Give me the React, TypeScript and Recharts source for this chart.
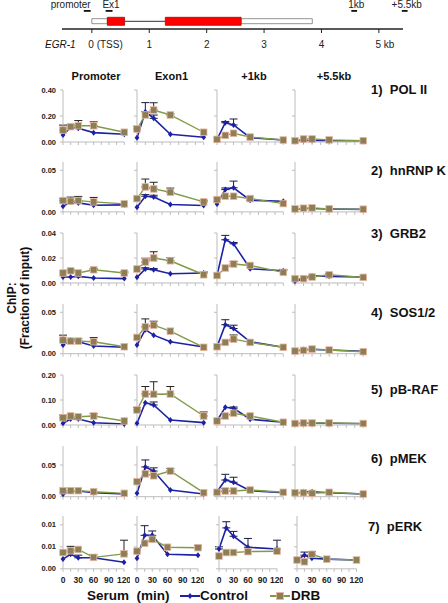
import React from "react";
import {
  LineChart,
  Line,
  XAxis,
  YAxis,
  ErrorBar,
  ReferenceArea,
  ReferenceLine,
} from "recharts";

const FONT = '"Liberation Sans", Arial, sans-serif';
const AXIS_GRAY = "#BDBDBD";
const CTL = "#1C22A6";
const DRB_LINE = "#7E9B45";
const DRB_FILL = "#8C7E55";
const DRB_EDGE = "#E6B7A3";

// ---- gene map, kb from TSS
const kbTicks = [0, 1, 2, 3, 4, 5];
const utrs = [
  [0, 0.27],
  [2.6, 3.84],
];
const exons = [
  [0.27, 0.57],
  [1.28, 2.6],
];
const intron = [0.57, 1.28];
const amplicons = ["promoter", "Ex1", "1kb", "+5.5kb"];
const ampliconKb = [
  [-0.14, -0.02],
  [0.24, 0.36],
  [4.52, 4.62],
  [5.4, 5.5],
];

// ---- ChIP panels
const times = [0, 15, 30, 60, 120];
const xTicks = [0, 15, 30, 45, 60, 75, 90, 105, 120];
const regions = ["Promoter", "Exon1", "+1kb", "+5.5kb"];
const targets = ["1)  POL II", "2)  hnRNP K", "3)  GRB2", "4)  SOS1/2", "5)  pB-RAF", "6)  pMEK", "7)  pERK"];
const yMaxes = [0.4, 0.06, 0.04, 0.06, 0.2, 0.08, 0.012];
const yTicks = [
  [0, 0.2, 0.4],
  [0, 0.05],
  [0, 0.02, 0.04],
  [0, 0.05],
  [0, 0.1, 0.2],
  [0, 0.05],
  [0, 0.005, 0.01],
];

// each: [promoter, exon1, +1kb, +5.5kb] x times
const polCtl = [
  [0.054, 0.113, 0.105, 0.072, 0.06],
  [0.033, 0.233, 0.182, 0.059, 0.036],
  [0.02, 0.148, 0.131, 0.033, 0.015],
  [0.01, 0.012, 0.012, 0.01, 0.008],
];
const polDrb = [
  [0.092, 0.118, 0.125, 0.125, 0.075],
  [0.1, 0.208, 0.246, 0.208, 0.075],
  [0.02, 0.051, 0.067, 0.038, 0.015],
  [0.01, 0.023, 0.023, 0.016, 0.01],
];
const polCtlErr = [
  [0, 0, 0, 0, 0],
  [0, 0.07, 0.025, 0, 0],
  [0, 0.01, 0.046, 0, 0],
  [0, 0, 0, 0, 0],
];
const polDrbErr = [
  [0.038, 0.015, 0.04, 0.03, 0],
  [0.02, 0, 0.056, 0.01, 0],
  [0, 0, 0, 0, 0],
  [0, 0, 0, 0, 0],
];

const hnCtl = [
  [0.0067, 0.012, 0.0108, 0.008, 0.0084],
  [0.0055, 0.0188, 0.018, 0.0088, 0.0076],
  [0.0096, 0.0268, 0.029, 0.014, 0.0128],
  [0.003, 0.004, 0.004, 0.0035, 0.003],
];
const hnDrb = [
  [0.0136, 0.0128, 0.0136, 0.012, 0.0096],
  [0.016, 0.03, 0.0276, 0.0236, 0.012],
  [0.0148, 0.0188, 0.0188, 0.016, 0.01],
  [0.0036, 0.0044, 0.0048, 0.0036, 0.0032],
];
const hnCtlErr = [
  [0, 0, 0, 0, 0],
  [0, 0.002, 0.002, 0, 0],
  [0, 0.002, 0.008, 0.002, 0],
  [0, 0, 0, 0, 0],
];
const hnDrbErr = [
  [0.0024, 0.005, 0.005, 0.0054, 0],
  [0, 0.0095, 0.008, 0.005, 0.002],
  [0, 0, 0, 0, 0],
  [0, 0, 0, 0, 0],
];

const grbCtl = [
  [0.0048, 0.0048, 0.0053, 0.004, 0.0035],
  [0.0045, 0.0112, 0.0106, 0.0074, 0.008],
  [0.006, 0.0346, 0.0314, 0.0114, 0.0098],
  [0.0013, 0.0035, 0.0058, 0.0053, 0.0048],
];
const grbDrb = [
  [0.008, 0.0098, 0.008, 0.0106, 0.008],
  [0.0112, 0.0168, 0.02, 0.0178, 0.0066],
  [0.006, 0.012, 0.0152, 0.014, 0.0085],
  [0.0035, 0.0035, 0.0048, 0.0066, 0.0045],
];
const grbCtlErr = [
  [0, 0, 0, 0, 0],
  [0, 0.001, 0.001, 0, 0.001],
  [0, 0.0035, 0.001, 0, 0.001],
  [0, 0, 0, 0, 0],
];
const grbDrbErr = [
  [0, 0.001, 0, 0.001, 0.001],
  [0, 0.003, 0.005, 0.0026, 0],
  [0, 0, 0.002, 0, 0],
  [0, 0, 0.001, 0.001, 0],
];

const sosCtl = [
  [0.0104, 0.0164, 0.0144, 0.0092, 0.0077],
  [0.0104, 0.029, 0.0224, 0.0144, 0.008],
  [0.0084, 0.035, 0.0304, 0.0144, 0.0077],
  [0.003, 0.005, 0.005, 0.0045, 0.003],
];
const sosDrb = [
  [0.0164, 0.0152, 0.0152, 0.0144, 0.0084],
  [0.0196, 0.0324, 0.0344, 0.0272, 0.0077],
  [0.0084, 0.0136, 0.0176, 0.0136, 0.0077],
  [0.0032, 0.004, 0.0056, 0.0044, 0.0024],
];
const sosCtlErr = [
  [0, 0, 0, 0, 0],
  [0, 0, 0, 0, 0],
  [0, 0.006, 0.004, 0, 0],
  [0, 0, 0, 0, 0],
];
const sosDrbErr = [
  [0.006, 0.002, 0.003, 0.005, 0],
  [0, 0.0096, 0.0048, 0, 0],
  [0, 0, 0.005, 0, 0],
  [0, 0, 0, 0, 0],
];

const rafCtl = [
  [0.0068, 0.024, 0.024, 0.0093, 0.004],
  [0.0068, 0.089, 0.08, 0.02, 0.0093],
  [0.017, 0.071, 0.067, 0.023, 0.011],
  [0.005, 0.007, 0.007, 0.007, 0.005],
];
const rafDrb = [
  [0.029, 0.036, 0.033, 0.036, 0.016],
  [0.06, 0.124, 0.123, 0.124, 0.036],
  [0.016, 0.036, 0.047, 0.036, 0.011],
  [0.006, 0.008, 0.008, 0.008, 0.006],
];
const rafCtlErr = [
  [0, 0.005, 0, 0, 0],
  [0, 0, 0.012, 0, 0],
  [0, 0, 0.005, 0, 0],
  [0, 0, 0, 0, 0],
];
const rafDrbErr = [
  [0.011, 0, 0, 0.01, 0],
  [0.01, 0.03, 0.05, 0.03, 0.016],
  [0, 0, 0, 0, 0],
  [0, 0, 0, 0, 0],
];

const mekCtl = [
  [0.0037, 0.0095, 0.009, 0.0063, 0.0042],
  [0.0053, 0.047, 0.0405, 0.0105, 0.0042],
  [0.0079, 0.0263, 0.0227, 0.0095, 0.0063],
  [0.005, 0.0079, 0.0079, 0.0063, 0.0042],
];
const mekDrb = [
  [0.0095, 0.0095, 0.0095, 0.0079, 0.0053],
  [0.0237, 0.036, 0.033, 0.0405, 0.0063],
  [0.0069, 0.009, 0.009, 0.0105, 0.0069],
  [0.0063, 0.0063, 0.0053, 0.0069, 0.0042],
];
const mekCtlErr = [
  [0, 0, 0, 0, 0],
  [0, 0.011, 0.005, 0, 0],
  [0, 0.009, 0.008, 0, 0],
  [0, 0, 0, 0, 0],
];
const mekDrbErr = [
  [0, 0, 0, 0, 0],
  [0, 0, 0, 0.004, 0],
  [0, 0.004, 0, 0, 0],
  [0, 0, 0, 0, 0],
];

const erkCtl = [
  [0.0022, 0.0033, 0.0025, 0.0025, 0.0015],
  [0.0024, 0.0076, 0.0076, 0.0033, 0.0031],
  [0.0045, 0.0093, 0.0074, 0.0049, 0.0045],
  [0.002, 0.0031, 0.0024, 0.0022, 0.002],
];
const erkDrb = [
  [0.0037, 0.0041, 0.0044, 0.0026, 0.0034],
  [0.004, 0.0058, 0.0067, 0.0049, 0.0048],
  [0.0029, 0.0037, 0.0037, 0.0039, 0.004],
  [0.002, 0.0016, 0.0033, 0.0022, 0.002],
];
const erkCtlErr = [
  [0, 0, 0.0006, 0, 0],
  [0, 0.0022, 0.001, 0, 0],
  [0.0005, 0.0014, 0.0011, 0.002, 0.002],
  [0, 0.0007, 0, 0, 0],
];
const erkDrbErr = [
  [0, 0.001, 0, 0.0006, 0.0031],
  [0, 0, 0, 0, 0.0005],
  [0, 0, 0, 0, 0],
  [0, 0, 0.0006, 0, 0],
];

const ctlSeries = [polCtl, hnCtl, grbCtl, sosCtl, rafCtl, mekCtl, erkCtl];
const drbSeries = [polDrb, hnDrb, grbDrb, sosDrb, rafDrb, mekDrb, erkDrb];
const ctlErrSeries = [polCtlErr, hnCtlErr, grbCtlErr, sosCtlErr, rafCtlErr, mekCtlErr, erkCtlErr];
const drbErrSeries = [polDrbErr, hnDrbErr, grbDrbErr, sosDrbErr, rafDrbErr, mekDrbErr, erkDrbErr];

// ---- layout (px)
const rowTop = [90, 162.4, 233.3, 304, 375, 446, 516.2];
const rowZero = [142, 212.3, 283.3, 353.7, 425, 496.7, 569];
const titleY = [90, 170.7, 234.3, 313.3, 390, 459.3, 526.7];
const colX = [63, 137.3, 217, 295];
const colW = [61.3, 66.7, 66.3, 68.3];
const lastColX = [63.3, 137.3, 218.5, 297];
const lastColW = [61, 61, 58, 59.5];
const headerX = [96, 171.5, 254, 334];

const NoTick = () => <g />;

const MinuteTick = (p: any) => {
  const v = p.payload?.value;
  if (v % 30 !== 0) return <g />;
  return (
    <text x={p.x} y={p.y + 9} textAnchor="middle" fontSize={8.5} fontWeight={700} fill="#222" fontFamily={FONT}>
      {v}
    </text>
  );
};

const Diamond = (p: any) => {
  const { cx, cy, index } = p;
  if (cx == null || cy == null) return <g key={index} />;
  return (
    <polygon
      key={index}
      points={`${cx},${cy - 3} ${cx + 2.4},${cy} ${cx},${cy + 3} ${cx - 2.4},${cy}`}
      fill={CTL}
    />
  );
};

const Square = (p: any) => {
  const { cx, cy, index } = p;
  if (cx == null || cy == null) return <g key={index} />;
  return (
    <rect key={index} x={cx - 3.3} y={cy - 3.3} width={6.6} height={6.6} fill={DRB_FILL} stroke={DRB_EDGE} strokeWidth={0.8} />
  );
};

function Panel({ r, c }: { r: number; c: number }) {
  const last = r === targets.length - 1;
  const px = (last ? lastColX : colX)[c];
  const pw = (last ? lastColW : colW)[c];
  const top = rowTop[r];
  const zero = rowZero[r];
  const padL = 30;
  const padR = 6;
  const padT = 8;
  const axisH = last ? 20 : 6;
  const err = (v: number) => (v > 0 ? [0, v] : undefined);
  const data = times.map((t, i) => ({
    t,
    ctl: ctlSeries[r][c][i],
    drb: drbSeries[r][c][i],
    ctlErr: err(ctlErrSeries[r][c][i]),
    drbErr: err(drbErrSeries[r][c][i]),
  }));

  return (
    <div style={{ position: "absolute", left: px - padL, top: top - padT }}>
      <LineChart
        width={pw + padL + padR}
        height={zero - top + padT + axisH}
        data={data}
        margin={{ top: padT, right: padR, bottom: 0, left: 0 }}
      >
        <XAxis
          dataKey="t"
          type="number"
          domain={[0, 120]}
          ticks={xTicks}
          interval={0}
          height={axisH}
          stroke={AXIS_GRAY}
          tickSize={3}
          tick={last ? MinuteTick : NoTick}
        />
        <YAxis
          width={padL}
          type="number"
          domain={[0, yMaxes[r]]}
          ticks={yTicks[r]}
          interval={0}
          stroke={AXIS_GRAY}
          tickSize={3}
          tickMargin={4}
          tick={c === 0 ? { fontSize: 7.5, fontWeight: 700, fill: "#222", fontFamily: FONT } : NoTick}
          tickFormatter={(v: number) => v.toFixed(2)}
        />
        {/* error bars first (plus direction only), markers drawn over them */}
        <Line dataKey="ctl" stroke="none" dot={false} activeDot={false} isAnimationActive={false}>
          <ErrorBar dataKey="ctlErr" width={4} stroke="#1a1a40" strokeWidth={1} direction="y" />
        </Line>
        <Line dataKey="drb" stroke="none" dot={false} activeDot={false} isAnimationActive={false}>
          <ErrorBar dataKey="drbErr" width={4} stroke="#222" strokeWidth={1} direction="y" />
        </Line>
        <Line dataKey="ctl" stroke={CTL} strokeWidth={1.6} dot={Diamond} activeDot={false} isAnimationActive={false} />
        <Line dataKey="drb" stroke={DRB_LINE} strokeWidth={1.4} dot={Square} activeDot={false} isAnimationActive={false} />
      </LineChart>
    </div>
  );
}

const KbTick = (p: any) => {
  const v = p.payload?.value;
  const edge = v === 0 || v === 5;
  const label = v === 0 ? "0 (TSS)" : v === 5 ? "5 kb" : String(v);
  return (
    <text
      x={edge ? p.x - 3.5 : p.x}
      y={p.y + 12.5}
      textAnchor={edge ? "start" : "middle"}
      fontSize={10}
      fill="#222"
      fontFamily={FONT}
    >
      {label}
    </text>
  );
};

const markShape = (txt: string, anchor: "end" | "middle") => (p: any) => {
  const { x, y, width, height } = p;
  const tx = anchor === "end" ? x + width : x + width / 2 + 2;
  return (
    <g>
      <rect x={x} y={y} width={width} height={height} fill="#111" />
      <text x={tx} y={y - 2.5} textAnchor={anchor} fontSize={10} fill="#222" fontFamily={FONT}>
        {txt}
      </text>
    </g>
  );
};

function GeneMap() {
  return (
    <div style={{ position: "absolute", left: 0, top: 0 }}>
      <LineChart
        width={448}
        height={52}
        data={kbTicks.map((kb) => ({ kb }))}
        margin={{ top: 0, right: 45, bottom: 0, left: 62 }}
      >
        <XAxis
          dataKey="kb"
          type="number"
          domain={[-0.52, 5.42]}
          allowDataOverflow
          ticks={kbTicks}
          interval={0}
          height={23}
          axisLine={{ stroke: "#222", strokeWidth: 1.5 }}
          tickLine={{ stroke: "#222" }}
          tickSize={4}
          tick={KbTick}
        />
        <YAxis hide type="number" domain={[0, 29]} allowDataOverflow />
        {utrs.map(([a, b], i) => (
          <ReferenceArea key={`u${i}`} x1={a} x2={b} y1={5.3} y2={10.3} fill="#fff" fillOpacity={1} stroke="#777" strokeWidth={0.8} ifOverflow="visible" />
        ))}
        <ReferenceLine segment={[{ x: intron[0], y: 7.7 }, { x: intron[1], y: 7.7 }]} stroke="#333" strokeWidth={1} ifOverflow="visible" />
        {exons.map(([a, b], i) => (
          <ReferenceArea key={`e${i}`} x1={a} x2={b} y1={3.7} y2={11.7} fill="#FF0000" fillOpacity={1} stroke="#B00000" strokeWidth={0.8} ifOverflow="visible" />
        ))}
        {ampliconKb.map(([a, b], i) => (
          <ReferenceArea
            key={`a${i}`}
            x1={a}
            x2={b}
            y1={17.2}
            y2={19}
            ifOverflow="visible"
            shape={markShape(amplicons[i], i === 0 ? "end" : "middle")}
          />
        ))}
      </LineChart>
    </div>
  );
}

const abs = (left: number, top: number, extra: React.CSSProperties = {}): React.CSSProperties => ({
  position: "absolute",
  left,
  top,
  whiteSpace: "pre",
  fontFamily: FONT,
  color: "#111",
  ...extra,
});

export default function App() {
  return (
    <div style={{ position: "absolute", left: 0, top: 0, width: 448, height: 603, background: "#fff", fontFamily: FONT }}>
      <GeneMap />
      <div style={abs(45, 38, { fontSize: 10, fontStyle: "italic", lineHeight: "14px" })}>EGR-1</div>

      {regions.map((name, c) => (
        <div
          key={name}
          style={abs(headerX[c] - 40, 69, { width: 80, textAlign: "center", fontSize: 11, fontWeight: 700, lineHeight: "14px" })}
        >
          {name}
        </div>
      ))}

      {targets.map((name, r) => (
        <div key={name} style={abs(r === 6 ? 368 : 371, titleY[r] - 8, { fontSize: 13, fontWeight: 700, lineHeight: "16px" })}>
          {name}
        </div>
      ))}

      <div
        style={abs(18.7 - 60, 298 - 13, {
          width: 120,
          height: 26,
          textAlign: "center",
          fontSize: 12,
          fontWeight: 700,
          lineHeight: "13px",
          transform: "rotate(-90deg)",
        })}
      >
        {"ChIP:\n(Fraction of input)"}
      </div>

      {targets.map((_, r) => regions.map((__, c) => <Panel key={`${r}-${c}`} r={r} c={c} />))}

      <div style={abs(87, 587, { fontSize: 13.5, fontWeight: 700, lineHeight: "18px" })}>{"Serum  (min)"}</div>
      <svg style={{ position: "absolute", left: 178, top: 590 }} width={24} height={12}>
        <line x1={2} y1={6} x2={22} y2={6} stroke={CTL} strokeWidth={2} />
        <polygon points="12,3 14.4,6 12,9 9.6,6" fill={CTL} />
      </svg>
      <div style={abs(200, 587, { fontSize: 13.5, fontWeight: 700, lineHeight: "18px" })}>Control</div>
      <svg style={{ position: "absolute", left: 268, top: 590 }} width={24} height={12}>
        <line x1={2} y1={6} x2={22} y2={6} stroke={DRB_LINE} strokeWidth={2} />
        <rect x={8.5} y={2.5} width={7} height={7} fill={DRB_FILL} stroke={DRB_EDGE} strokeWidth={0.8} />
      </svg>
      <div style={abs(291, 587, { fontSize: 13.5, fontWeight: 700, lineHeight: "18px" })}>DRB</div>
    </div>
  );
}
